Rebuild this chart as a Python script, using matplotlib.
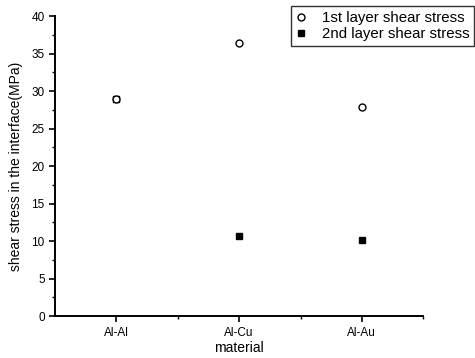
import matplotlib
matplotlib.use("Agg")
import matplotlib.pyplot as plt
from matplotlib.ticker import MultipleLocator, FixedLocator

plt.rcParams['font.family'] = ['Liberation Sans', 'DejaVu Sans']

categories = ["Al-Al", "Al-Cu", "Al-Au"]
first_layer = [29.0, 36.4, 27.9]
second_layer = [29.0, 10.7, 10.2]

fig = plt.figure(figsize=(4.75, 3.58), dpi=100)
ax = fig.add_axes([0.116, 0.117, 0.775, 0.838])
x = list(range(1, len(categories) + 1))

ax.plot(x, second_layer, linestyle='none', marker='s', markersize=4.5,
        color='black', label='2nd layer shear stress', zorder=2)
ax.plot(x, first_layer, linestyle='none', marker='o', markersize=5,
        markerfacecolor='white', markeredgecolor='black', markeredgewidth=1.0,
        label='1st layer shear stress', zorder=3)

ax.set_xlim(0.5, 3.5)
ax.set_ylim(0, 40)
ax.set_xticks(x)
ax.set_xticklabels(categories)
ax.xaxis.set_minor_locator(FixedLocator([1.5, 2.5, 3.5]))
ax.yaxis.set_major_locator(MultipleLocator(5))
ax.yaxis.set_minor_locator(MultipleLocator(2.5))
ax.tick_params(axis='both', which='major', direction='out', length=4, width=1.2, labelsize=8.5)
ax.tick_params(axis='both', which='minor', direction='out', length=2, width=1.0)

for s in ['top', 'right']:
    ax.spines[s].set_visible(False)
for s in ['left', 'bottom']:
    ax.spines[s].set_linewidth(1.4)

ax.set_xlabel('material', fontsize=10, labelpad=2)
ax.set_ylabel('shear stress in the interface(MPa)', fontsize=10, labelpad=6)

handles, labels = ax.get_legend_handles_labels()
leg = fig.legend(handles[::-1], labels[::-1], loc='upper left',
                 bbox_to_anchor=(0.612, 0.982), fontsize=10.8, frameon=True,
                 fancybox=False, edgecolor='black', handlelength=0.8,
                 borderpad=0.3, labelspacing=0.15, handletextpad=1.0,
                 borderaxespad=0.0)
leg.get_frame().set_linewidth(1.0)

fig.savefig('out.png', dpi=100)
